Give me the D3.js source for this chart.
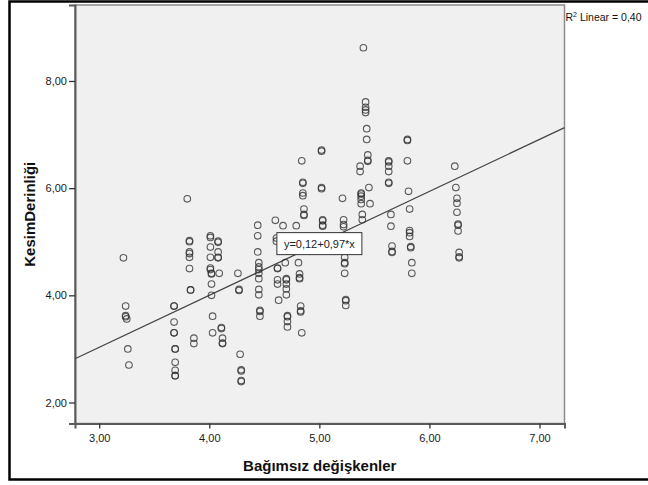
<!DOCTYPE html>
<html>
<head>
<meta charset="utf-8">
<script src="https://cdn.jsdelivr.net/npm/d3@7"></script>
<style>
  body { margin: 0; background: #fff; }
  svg { display: block; }
  text { font-family: "Liberation Sans", Arial, sans-serif; }
</style>
</head>
<body>
<div id="chart"></div>
<script>
// Data (Bağımsız değişkenler vs KesimDerinliği)
var xVals = [
  3.22, 3.24, 3.24, 3.24, 3.25, 3.26, 3.27,
  3.68, 3.68, 3.68, 3.68, 3.68, 3.69, 3.69, 3.69, 3.69, 3.69, 3.69,
  3.80, 3.82, 3.82, 3.82, 3.82, 3.82, 3.82, 3.83, 3.83, 3.86, 3.86,
  4.01, 4.01, 4.01, 4.01, 4.01, 4.01, 4.02, 4.02, 4.02, 4.02, 4.03, 4.03,
  4.08, 4.08, 4.08, 4.08, 4.08, 4.09, 4.11, 4.11, 4.12, 4.12, 4.12,
  4.26, 4.27, 4.27, 4.28, 4.29, 4.29, 4.29, 4.29,
  4.44, 4.44, 4.44, 4.45, 4.45, 4.45, 4.45, 4.45, 4.45, 4.45, 4.46, 4.46, 4.46,
  4.60, 4.61, 4.61, 4.62, 4.62, 4.62, 4.62, 4.63,
  4.67, 4.69, 4.70, 4.70, 4.70, 4.70, 4.70, 4.71, 4.71, 4.71, 4.71,
  4.79, 4.81, 4.82, 4.82, 4.82, 4.83, 4.83, 4.83, 4.84,
  4.84, 4.85, 4.85, 4.85, 4.85, 4.86, 4.86, 4.86,
  5.02, 5.02, 5.02, 5.02, 5.03, 5.03, 5.03, 5.03,
  5.21, 5.22, 5.22, 5.22, 5.23, 5.23, 5.23, 5.23, 5.24, 5.24, 5.24,
  5.37, 5.37, 5.38, 5.38, 5.38, 5.38, 5.38, 5.39, 5.39, 5.40, 5.42, 5.42, 5.42, 5.42,
  5.43, 5.43, 5.44, 5.44, 5.44, 5.45, 5.46,
  5.63, 5.63, 5.63, 5.63, 5.63, 5.63, 5.65, 5.65, 5.66, 5.66, 5.66,
  5.80, 5.80, 5.80, 5.81, 5.82, 5.82, 5.82, 5.82, 5.83, 5.83, 5.84, 5.84,
  6.23, 6.24, 6.25, 6.25, 6.25, 6.26, 6.26, 6.26, 6.27, 6.27, 6.27
];
var yVals = [
  4.70, 3.80, 3.62, 3.60, 3.56, 3.00, 2.70,
  3.80, 3.80, 3.50, 3.30, 3.30, 3.00, 3.00, 2.75, 2.60, 2.50, 2.50,
  5.80, 5.02, 5.00, 4.81, 4.78, 4.71, 4.50, 4.10, 4.10, 3.20, 3.10,
  5.11, 5.08, 4.90, 4.71, 4.51, 4.48, 4.41, 4.40, 4.21, 4.00, 3.61, 3.30,
  5.01, 4.99, 4.81, 4.71, 4.70, 4.41, 3.40, 3.38, 3.20, 3.11, 3.10,
  4.41, 4.11, 4.09, 2.90, 2.61, 2.59, 2.41, 2.39,
  5.31, 5.11, 4.81, 4.61, 4.53, 4.48, 4.41, 4.31, 4.11, 4.01, 3.72, 3.70, 3.61,
  5.40, 5.07, 5.01, 4.51, 4.50, 4.29, 4.21, 3.91,
  5.30, 4.61, 4.31, 4.29, 4.21, 4.12, 4.01, 3.62, 3.60, 3.51, 3.41,
  5.30, 4.61, 4.40, 4.33, 4.31, 3.80, 3.71, 3.69, 3.30,
  6.51, 6.11, 6.09, 5.91, 5.86, 5.61, 5.51, 5.49,
  6.71, 6.69, 6.01, 5.99, 5.41, 5.39, 5.31, 5.29,
  5.81, 5.41, 5.32, 5.28, 4.71, 4.61, 4.59, 4.41, 3.92, 3.90, 3.81,
  6.41, 6.31, 5.91, 5.89, 5.85, 5.79, 5.71, 5.51, 5.41, 8.62, 7.61, 7.51, 7.46, 7.41,
  7.11, 6.91, 6.62, 6.52, 6.50, 6.01, 5.71,
  6.51, 6.49, 6.41, 6.31, 6.11, 6.09, 5.51, 5.29, 4.92, 4.82, 4.80,
  6.91, 6.89, 6.51, 5.94, 5.61, 5.21, 5.17, 5.10, 4.91, 4.89, 4.61, 4.41,
  6.41, 6.01, 5.81, 5.72, 5.55, 5.33, 5.31, 5.20, 4.80, 4.72, 4.70
];
var xTicks = [3, 4, 5, 6, 7];
var yTicks = [2, 4, 6, 8];
var fitIntercept = 0.12;
var fitSlope = 0.97;
var fitLabel = "y=0,12+0,97*x";
var r2Label = "Linear = 0,40";

var w = 648;
var h = 485;
var plotLeft = 75, plotRight = 564.5, plotTop = 5, plotBottom = 423.5;

var xScale = d3.scaleLinear().domain([2.78, 7.227]).range([plotLeft, plotRight]);
var yScale = d3.scaleLinear().domain([1.608, 9.418]).range([plotBottom, plotTop]);

var comma = d3.formatLocale({ decimal: ",", thousands: ".", grouping: [3], currency: ["", ""] }).format(".2f");

var svg = d3.select("#chart").append("svg")
    .attr("width", w)
    .attr("height", h);

// outer black frame (runs off the right edge)
svg.append("rect")
    .attr("x", 9.5).attr("y", 1.5)
    .attr("width", 660).attr("height", 478)
    .attr("fill", "none")
    .attr("stroke", "#000")
    .attr("stroke-width", 2.5);

// plot panel
svg.append("rect")
    .attr("x", plotLeft).attr("y", plotTop)
    .attr("width", plotRight - plotLeft)
    .attr("height", plotBottom - plotTop)
    .attr("fill", "#f0f0f0")
    .attr("stroke", "#8c8c8c")
    .attr("stroke-width", 1.5);

// axes
var xAxis = d3.axisBottom(xScale).tickValues(xTicks).tickFormat(comma).tickSizeOuter(0).tickSize(5);
var yAxis = d3.axisLeft(yScale).tickValues(yTicks).tickFormat(comma).tickSizeOuter(0).tickSize(6);

var gx = svg.append("g")
    .attr("transform", "translate(0," + plotBottom + ")")
    .call(xAxis);
var gy = svg.append("g")
    .attr("transform", "translate(" + plotLeft + ",0)")
    .call(yAxis);

[gx, gy].forEach(function(g) {
    g.select(".domain").attr("stroke", "#5a5a5a").attr("stroke-width", 2);
    g.selectAll(".tick line").attr("stroke", "#333").attr("stroke-width", 1.3);
    g.selectAll(".tick text")
        .attr("fill", "#1a1a1a")
        .style("font-size", "11px")
        .style("font-family", "'Liberation Sans', Arial, sans-serif");
});
gx.selectAll(".tick text").attr("dy", "0.95em").attr("y", 8);
gy.selectAll(".tick text").attr("x", -8);

// regression line across the plot
var xd = xScale.domain();
svg.append("line")
    .attr("x1", xScale(xd[0]))
    .attr("y1", yScale(fitIntercept + fitSlope * xd[0]))
    .attr("x2", xScale(xd[1]))
    .attr("y2", yScale(fitIntercept + fitSlope * xd[1]))
    .attr("stroke", "#444")
    .attr("stroke-width", 1.2);

// points
svg.append("g")
    .selectAll("circle")
    .data(xVals)
    .enter()
    .append("circle")
    .attr("cx", function(d) { return xScale(d); })
    .attr("cy", function(d, i) { return yScale(yVals[i]); })
    .attr("r", 3.3)
    .attr("fill", "none")
    .attr("stroke", "#333")
    .attr("stroke-opacity", 0.8)
    .attr("stroke-width", 1.1);

// equation label box
var lx = xScale(4.614), ly = yScale(5.17);
svg.append("rect")
    .attr("x", lx).attr("y", ly)
    .attr("width", 85).attr("height", 22)
    .attr("fill", "#fff")
    .attr("stroke", "#333")
    .attr("stroke-width", 1);
svg.append("text")
    .attr("x", lx + 42.5).attr("y", ly + 15.5)
    .attr("text-anchor", "middle")
    .attr("fill", "#222")
    .style("font-size", "11px")
    .text(fitLabel);

// R2 label
var r2 = svg.append("text")
    .attr("x", plotRight + 1)
    .attr("y", 21)
    .attr("fill", "#111")
    .style("font-size", "10.5px");
r2.append("tspan").text("R");
r2.append("tspan").attr("dy", -4).style("font-size", "7px").text("2");
r2.append("tspan").attr("dy", 4).text(" " + r2Label);

// axis titles
svg.append("text")
    .attr("x", (plotLeft + plotRight) / 2)
    .attr("y", 471)
    .attr("text-anchor", "middle")
    .attr("font-weight", "bold")
    .attr("fill", "#111")
    .style("font-size", "15px")
    .text("Bağımsız değişkenler");

svg.append("text")
    .attr("transform", "translate(35," + ((plotTop + plotBottom) / 2) + ") rotate(-90)")
    .attr("text-anchor", "middle")
    .attr("font-weight", "bold")
    .attr("fill", "#111")
    .style("font-size", "15px")
    .text("KesimDerinliği");
</script>
</body>
</html>
